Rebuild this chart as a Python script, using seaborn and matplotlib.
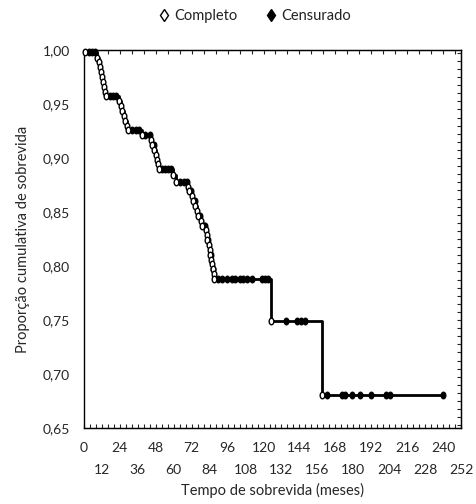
import numpy as np
import pandas as pd
import matplotlib.pyplot as plt
import seaborn as sns
from matplotlib.lines import Line2D
from matplotlib.markers import MarkerStyle
from matplotlib.ticker import MultipleLocator

# Kaplan-Meier steps: time (months) and survival after each event
complete_t = [0.5, 9.0, 10.0, 11.0, 11.5, 12.0, 13.0, 13.5, 14.0, 15.0,
              23.5, 24.5, 25.5, 26.5, 27.5, 28.5, 29.5, 38.5,
              44.5, 45.5, 47.0, 48.0, 48.8, 49.5, 50.2, 59.5, 61.5,
              69.5, 70.5, 72.0, 73.0, 74.5, 75.5, 76.5, 78.0, 79.0,
              81.5, 82.0, 82.5, 83.5, 84.0, 84.5, 85.0, 85.5, 86.0, 86.6, 87.0,
              125.3, 159.0]
complete_s = [0.998, 0.993, 0.9885, 0.984, 0.9795, 0.975, 0.9705, 0.966, 0.9615, 0.957,
              0.9525, 0.948, 0.9435, 0.939, 0.9345, 0.930, 0.9255, 0.921,
              0.9165, 0.912, 0.9075, 0.903, 0.8985, 0.894, 0.8895, 0.8845, 0.878,
              0.8735, 0.869, 0.8645, 0.860, 0.8555, 0.851, 0.8465, 0.842, 0.8375,
              0.833, 0.8285, 0.824, 0.8195, 0.815, 0.8105, 0.806, 0.8015, 0.797, 0.7925, 0.788,
              0.749, 0.681]

# censored observations and the level they sit on
censored_t = [3.3, 5.3, 7.3, 17.5, 19.5, 21.5, 32.0, 34.5, 37.0, 41.0, 44.0, 46.5,
              52.0, 54.0, 56.0, 58.0, 64.3, 67.0, 69.0, 71.5, 74.0, 77.5, 80.0, 81.0,
              83.0, 84.8, 86.3,
              89.5, 92.2, 95.5, 98.8, 100.8, 104.1, 106.1, 108.8, 112.1, 118.7, 120.7, 122.7,
              135.3, 142.6, 145.2, 147.9,
              162.6, 172.6, 174.4, 179.3, 184.2, 192.1, 202.0, 204.7, 240.0]
censored_s = [0.998, 0.998, 0.998, 0.957, 0.957, 0.957, 0.9255, 0.9255, 0.9255, 0.921, 0.921, 0.912,
              0.8895, 0.8895, 0.8895, 0.8895, 0.878, 0.878, 0.878, 0.869, 0.860, 0.8465, 0.8375, 0.8375,
              0.824, 0.8105, 0.797,
              0.788, 0.788, 0.788, 0.788, 0.788, 0.788, 0.788, 0.788, 0.788, 0.788, 0.788, 0.788,
              0.749, 0.749, 0.749, 0.749,
              0.681, 0.681, 0.681, 0.681, 0.681, 0.681, 0.681, 0.681, 0.681]

x_row1 = [0, 24, 48, 72, 96, 120, 144, 168, 192, 216, 240]
x_row2 = [12, 36, 60, 84, 108, 132, 156, 180, 204, 228, 252]
y_ticks = [0.65, 0.70, 0.75, 0.80, 0.85, 0.90, 0.95, 1.00]
y_labels = ['0,65', '0,70', '0,75', '0,80', '0,85', '0,90', '0,95', '1,00']

sns.set_style('white')
plt.rcParams['font.family'] = ['Lato', 'DejaVu Sans']
plt.rcParams['text.color'] = '#222222'

fig = plt.figure(figsize=(4.77, 5.04), dpi=100)
ax = fig.add_axes([84 / 477, 1 - 428 / 504, (461 - 84) / 477, (428 - 50) / 504])

# step line
line_t = [0] + complete_t + [max(censored_t)]
line_s = [1.0] + complete_s + [complete_s[-1]]
sns.lineplot(x=line_t, y=line_s, drawstyle='steps-post', color='black', lw=2.0,
             estimator=None, sort=False, ax=ax, zorder=2)

theta = np.linspace(0, 2 * np.pi, 40)
oval = MarkerStyle(list(zip(0.72 * np.cos(theta), np.sin(theta))))

sns.scatterplot(x=censored_t, y=censored_s, marker=oval, s=24, color='black',
                edgecolor='black', linewidth=0.8, ax=ax, zorder=3, clip_on=False)
sns.scatterplot(x=complete_t, y=complete_s, marker=oval, s=22, color='white',
                edgecolor='black', linewidth=1.0, ax=ax, zorder=4, clip_on=False)

ax.set_xlim(0, 252)
ax.set_ylim(0.65, 1.0)

ax.set_xticks(x_row1, labels=[str(v) for v in x_row1])
ax.set_xticks(x_row2, labels=[str(v) for v in x_row2], minor=True)
ax.tick_params(axis='x', which='major', length=0, pad=10, labelsize=10)
ax.tick_params(axis='x', which='minor', length=0, pad=26, labelsize=10)

ax.set_yticks(y_ticks, labels=y_labels)
ax.yaxis.set_minor_locator(MultipleLocator(0.0075))
ax.tick_params(axis='y', which='both', direction='in', length=3, width=0.8, pad=10, labelsize=10)

# decorative inner ticks on the other edges
sec_b = ax.secondary_xaxis('bottom')
sec_b.xaxis.set_major_locator(MultipleLocator(4))
sec_b.tick_params(direction='in', length=3, width=0.8, labelbottom=False)
sec_t = ax.secondary_xaxis('top')
sec_t.xaxis.set_major_locator(MultipleLocator(8))
sec_t.tick_params(direction='in', length=3, width=0.8, labeltop=False)
sec_r = ax.secondary_yaxis('right')
sec_r.yaxis.set_major_locator(MultipleLocator(0.0075))
sec_r.tick_params(direction='in', length=3, width=0.8, labelright=False)

for sp in ax.spines.values():
    sp.set_color('black')
    sp.set_linewidth(1.0)

ax.set_xlabel('Tempo de sobrevida (meses)', fontsize=10.5, labelpad=5)
ax.set_ylabel('Proporção cumulativa de sobrevida', fontsize=10.5, labelpad=9)

handles = [Line2D([], [], marker='d', ls='none', markerfacecolor='white', markeredgecolor='black',
                  markersize=6, markeredgewidth=1.0),
           Line2D([], [], marker='d', ls='none', markerfacecolor='black', markeredgecolor='black',
                  markersize=6)]
fig.legend(handles, ['Completo', 'Censurado'], loc='center', bbox_to_anchor=(0.535, 0.968),
           ncol=2, frameon=False, fontsize=10.5, handlelength=0.6, handletextpad=0.4,
           columnspacing=2.0)

fig.savefig('out.png', dpi=100)
